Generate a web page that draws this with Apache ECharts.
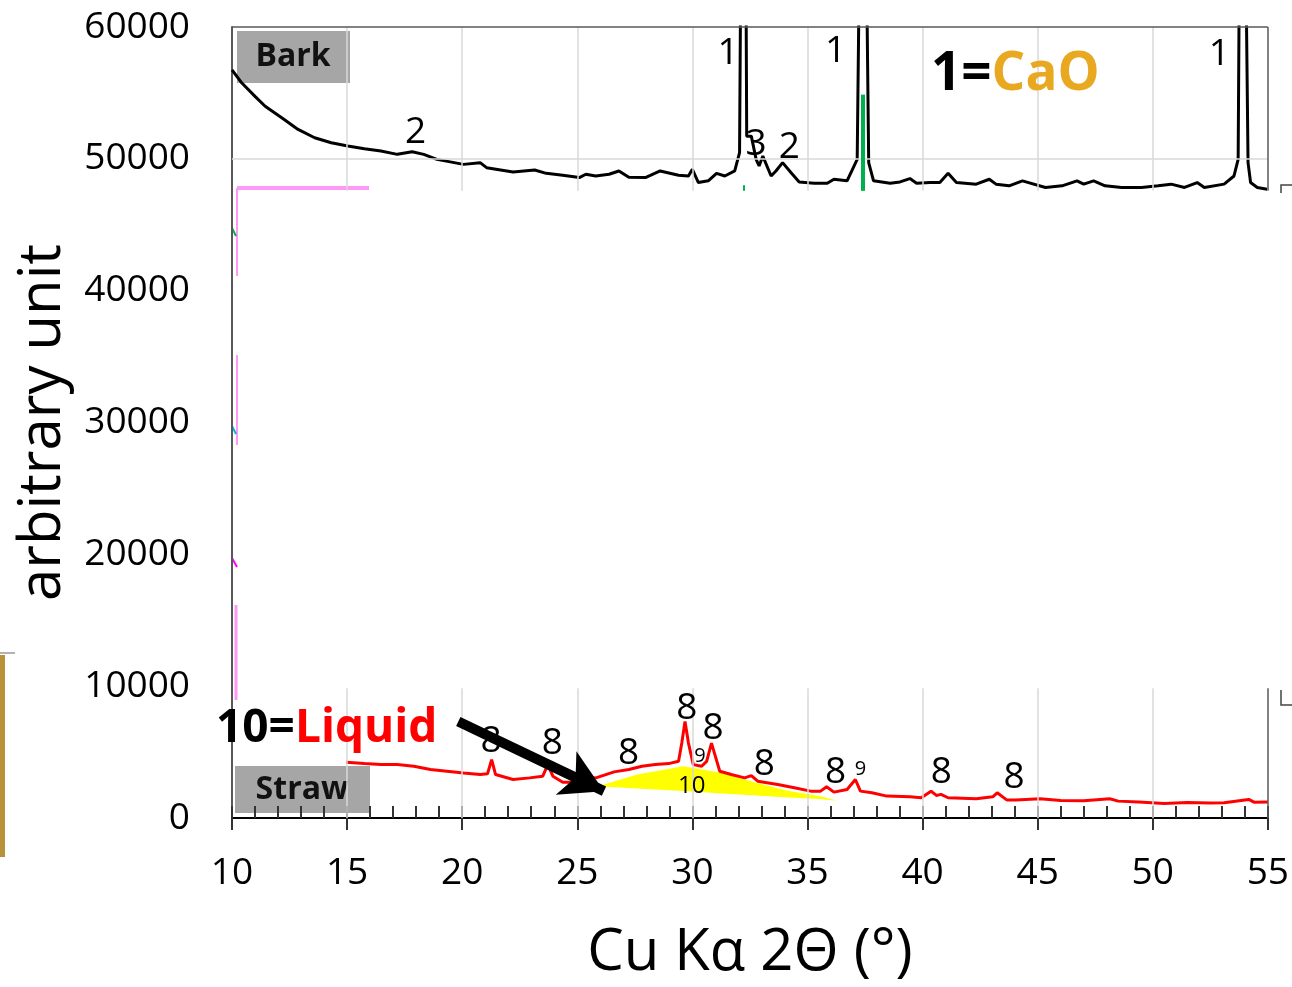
<!DOCTYPE html>
<html>
<head>
<meta charset="utf-8">
<script src="https://cdn.jsdelivr.net/npm/echarts@6/dist/echarts.min.js"></script>
<style>
  html, body { margin: 0; padding: 0; background: #fff; }
  #chart { width: 1292px; height: 987px; }
</style>
</head>
<body>
<div id="chart"></div>
<script>
// Bark pattern (black)
const barkX = [10.0, 10.43, 11.0, 11.44, 12.16, 12.87, 13.59, 14.31, 15.03, 15.75, 16.47, 17.18, 17.83, 18.33, 18.9,
  20.06, 20.78, 21.06, 22.21, 23.15, 23.65, 24.37, 25.09, 25.37, 25.8, 26.38, 26.81, 27.24, 27.96, 28.6, 29.4, 29.83,
  30.0, 30.26, 30.69, 31.05, 31.41, 31.84, 32.05, 32.14, 32.3, 32.36, 32.56, 32.77, 32.9, 33.06, 33.42, 33.63, 33.92,
  34.28, 34.64, 35.29, 35.86, 36.15, 36.72, 37.16, 37.32, 37.5, 37.66, 37.87, 38.59, 39.02, 39.45, 39.74, 40.32, 40.75,
  41.11, 41.47, 42.33, 42.9, 43.19, 43.76, 44.34, 45.34, 46.06, 46.71, 47.0, 47.43, 47.93, 48.65, 49.51, 50.23, 50.8,
  51.38, 51.93, 52.24, 53.1, 53.53, 53.71, 53.8, 53.98, 54.14, 54.25, 54.54, 54.97]
const barkY = [56750, 55750, 54740, 53990, 53110, 52230, 51600, 51220, 50970, 50770, 50590, 50340, 50540, 50340, 49960,
  49580, 49710, 49330, 49000, 49150, 48900, 48750, 48580, 48830, 48700, 48830, 49080, 48600, 48580, 49080, 48750, 48700,
  49210, 48200, 48330, 48900, 48700, 49080, 50470, 75000, 75000, 51720, 51720, 49960, 49460, 50210, 48700, 49080, 49710,
  48960, 48250, 48150, 48150, 48450, 48330, 49960, 75000, 75000, 49710, 48330, 48150, 48250, 48500, 48150, 48200, 48200,
  48900, 48200, 48080, 48450, 48080, 47950, 48330, 47830, 47950, 48330, 48080, 48330, 47950, 47830, 47830, 47950, 48080,
  47830, 48200, 47830, 48080, 48700, 49960, 75000, 75000, 49710, 48200, 47830, 47700]

// Straw pattern (red)
const strawX = [14.96, 15.75, 16.47, 17.18, 17.9, 18.62, 19.34, 20.06, 20.78, 21.1, 21.28, 21.45, 22.21, 22.93, 23.5,
  23.72, 23.94, 24.37, 24.94, 25.37, 25.81, 26.6, 27.24, 27.81, 28.39, 28.97, 29.4, 29.54, 29.68, 29.83, 30.04, 30.4,
  30.62, 30.83, 31.0, 31.19, 31.69, 32.27, 32.56, 32.84, 33.71, 34.43, 35.14, 35.57, 35.83, 36.15, 36.72, 37.08, 37.3,
  37.8, 38.45, 39.45, 39.94, 40.37, 40.6, 40.8, 41.11, 42.33, 43.05, 43.24, 43.67, 44.05, 44.48, 45.1, 46.0, 47.0,
  48.13, 48.5, 49.4, 50.5, 51.5, 52.5, 53.1, 54.17, 54.4, 55.0]
const strawY = [4226, 4125, 4050, 4050, 3925, 3673, 3547, 3420, 3295, 3350, 4428, 3295, 2920, 3044, 3170,
  4050, 3170, 2717, 2717, 3120, 3044, 3500, 3673, 3925, 4050, 4125, 4300, 5683, 7320, 5683, 4050, 3925,
  4300, 5683, 4679, 3547, 3295, 3044, 3220, 2792, 2540, 2290, 2038, 2038, 2365, 1962, 2163, 2920, 2038,
  1912, 1660, 1610, 1535, 2038, 1711, 1790, 1535, 1460, 1610, 1912, 1358, 1358, 1410, 1460, 1330, 1300,
  1460, 1280, 1208, 1107, 1180, 1130, 1158, 1410, 1200, 1208]

// "Liquid" hump (yellow)
const liqX = [25.9, 27.6, 29.6, 31.3, 32.76, 34.2, 35.5, 36.3]
const liqTop = [2415, 3300, 3920, 3420, 2670, 2040, 1660, 1300]
const liqBottom = [2415, 2240, 2040, 1856, 1705, 1555, 1434, 1300]

// reference sticks (green)
const refX = [32.22, 37.42]
const refTop = [48000, 54870]

// peak labels
const barkLabX = [17.97, 31.55, 32.77, 34.21, 36.22, 52.89]
const barkLabY = [51980, 58010, 51090, 50840, 58130, 57890]
const barkLabText = ['2', '1', '3', '2', '1', '1']
const strawLabX = [21.26, 23.92, 27.23, 29.76, 30.9, 33.13, 36.22, 40.82, 43.98]
const strawLabY = [5810, 5683, 4930, 8324, 6815, 4050, 3420, 3420, 3044]
const strawSmallX = [30.33, 37.3]
const strawSmallY = [4680, 3673]

// arrow from the "10=Liquid" note
const arrowFrom = [19.83, 7320]
const arrowTo = [26.16, 2038]

const gridX = [15, 20, 25, 30, 35, 40, 45, 50]
const topBandMin = 47570
const bottomBandMax = 9850

const FONT = 'Open Sans'

function zip (xs, ys) {
  return xs.map((x, i) => [x, ys[i]])
}

function seg (a, b) {
  return [{ coord: a }, { coord: b }]
}

function textPoints (xs, ys, texts, size) {
  return xs.map((x, i) => ({
    value: [x, ys[i]],
    label: { formatter: texts ? texts[i] : '8', fontSize: size }
  }))
}

// gridlines, only where the reference shows them
const gridLines = []
gridX.forEach(x => {
  gridLines.push(seg([x, topBandMin], [x, 60000]))
  gridLines.push(seg([x, 0], [x, bottomBandMax]))
})
gridLines.push(seg([10, 50000], [55, 50000]))

const frameLines = [
  seg([10, 60000], [55, 60000]),
  seg([55, topBandMin], [55, 60000]),
  seg([55, 0], [55, bottomBandMax])
]

const chart = echarts.init(document.getElementById('chart'))

const labelSeries = (name, data) => ({
  name: name,
  type: 'scatter',
  symbolSize: 0,
  z: 6,
  silent: true,
  data: data,
  itemStyle: { color: '#000', opacity: 1 },
  label: {
    show: true,
    position: 'inside',
    color: '#000',
    opacity: 1,
    textBorderWidth: 0,
    fontFamily: FONT
  }
})

const option = {
  animation: false,
  backgroundColor: '#fff',
  grid: { left: 232, right: 16, top: 27, bottom: 165 },
  xAxis: [
    {
      type: 'value',
      min: 10,
      max: 55,
      interval: 5,
      name: 'Cu Kα 2Θ (°)',
      nameLocation: 'middle',
      nameGap: 106,
      nameTextStyle: { fontSize: 58, fontFamily: FONT, color: '#000' },
      axisLine: { show: true, onZero: false, lineStyle: { color: '#000', width: 2 } },
      axisTick: { show: true, inside: false, length: 12, lineStyle: { color: '#333', width: 2 } },
      axisLabel: { fontSize: 37, fontFamily: FONT, color: '#000', margin: 37 },
      splitLine: { show: false }
    },
    {
      type: 'value',
      min: 10,
      max: 55,
      interval: 1,
      position: 'bottom',
      axisLine: { show: false },
      axisTick: { show: true, inside: true, length: 12, lineStyle: { color: '#333', width: 2 } },
      axisLabel: { show: false },
      splitLine: { show: false }
    }
  ],
  yAxis: {
    type: 'value',
    min: 0,
    max: 60000,
    interval: 10000,
    name: 'arbitrary unit',
    nameLocation: 'middle',
    nameGap: 160,
    nameRotate: 90,
    nameTextStyle: { fontSize: 58, fontFamily: FONT, color: '#000' },
    axisLine: { show: true, lineStyle: { color: '#595959', width: 2 } },
    axisTick: { show: false },
    axisLabel: { fontSize: 37, fontFamily: FONT, color: '#000', margin: 42, formatter: v => String(v) },
    splitLine: { show: false }
  },
  graphic: [
    // left-over bits of the neighbouring panels
    { type: 'rect', shape: { x: 0, y: 655, width: 5, height: 202 }, style: { fill: '#B8923A' } },
    { type: 'line', shape: { x1: 0, y1: 653, x2: 15, y2: 653 }, style: { stroke: '#999', lineWidth: 1.5 } },
    { type: 'rect', shape: { x: 237, y: 186, width: 132, height: 4 }, style: { fill: '#FF99F5' } },
    { type: 'line', shape: { x1: 237, y1: 188, x2: 237, y2: 276 }, style: { stroke: '#FF99F5', lineWidth: 2 } },
    { type: 'line', shape: { x1: 237, y1: 355, x2: 237, y2: 445 }, style: { stroke: '#FF99F5', lineWidth: 2 } },
    { type: 'line', shape: { x1: 236, y1: 605, x2: 236, y2: 700 }, style: { stroke: '#FF99F5', lineWidth: 3 } },
    { type: 'line', shape: { x1: 232, y1: 228, x2: 236, y2: 236 }, style: { stroke: '#00B050', lineWidth: 2 } },
    { type: 'line', shape: { x1: 232, y1: 426, x2: 236, y2: 434 }, style: { stroke: '#00B0F0', lineWidth: 2 } },
    { type: 'line', shape: { x1: 232, y1: 558, x2: 237, y2: 567 }, style: { stroke: '#FF00FF', lineWidth: 2 } },
    { type: 'polyline', shape: { points: [[1281, 193], [1281, 185], [1292, 185]] }, style: { stroke: '#444', lineWidth: 1.5, fill: null } },
    { type: 'polyline', shape: { points: [[1281, 690], [1281, 705], [1292, 705]] }, style: { stroke: '#444', lineWidth: 1.5, fill: null } },
    // sample tags
    {
      type: 'group', left: 237, top: 31, z: 10,
      children: [
        { type: 'rect', shape: { x: 0, y: 0, width: 113, height: 52 }, style: { fill: '#A6A6A6' } },
        { type: 'text', x: 56, y: 26, style: { text: 'Bark', font: 'bold 32px "Open Sans"', fill: '#111', align: 'center', verticalAlign: 'middle' } }
      ]
    },
    {
      type: 'group', left: 235, top: 766, z: 10,
      children: [
        { type: 'rect', shape: { x: 0, y: 0, width: 135, height: 47 }, style: { fill: '#A6A6A6' } },
        { type: 'text', x: 67, y: 24, style: { text: 'Straw', font: 'bold 32px "Open Sans"', fill: '#111', align: 'center', verticalAlign: 'middle' } }
      ]
    },
    {
      type: 'text', left: 931, top: 48, z: 10,
      style: {
        text: '{a|1=}{b|CaO}',
        rich: {
          a: { fontSize: 53, fontWeight: 'bold', fontFamily: FONT, fill: '#000' },
          b: { fontSize: 53, fontWeight: 'bold', fontFamily: FONT, fill: '#E8A920' }
        }
      }
    },
    {
      type: 'text', left: 216, top: 706, z: 10,
      style: {
        text: '{a|10=}{b|Liquid}',
        rich: {
          a: { fontSize: 46, fontWeight: 'bold', fontFamily: FONT, fill: '#000' },
          b: { fontSize: 46, fontWeight: 'bold', fontFamily: FONT, fill: '#FF0000' }
        }
      }
    }
  ],
  series: [
    {
      name: 'grid',
      type: 'line',
      data: [[10, 0]],
      symbol: 'none',
      lineStyle: { width: 0 },
      z: 1,
      silent: true,
      markLine: {
        silent: true,
        symbol: ['none', 'none'],
        label: { show: false },
        lineStyle: { color: '#D9D9D9', width: 1.5, type: 'solid' },
        data: gridLines
      }
    },
    {
      name: 'frame',
      type: 'line',
      data: [[10, 0]],
      symbol: 'none',
      lineStyle: { width: 0 },
      z: 3,
      silent: true,
      markLine: {
        silent: true,
        symbol: ['none', 'none'],
        label: { show: false },
        lineStyle: { color: '#595959', width: 1.5, type: 'solid' },
        data: frameLines
      }
    },
    {
      name: 'ref',
      type: 'line',
      data: [[10, 0]],
      symbol: 'none',
      lineStyle: { width: 0 },
      z: 2,
      silent: true,
      markLine: {
        silent: true,
        symbol: ['none', 'none'],
        label: { show: false },
        data: refX.map((x, i) => {
          const s = seg([x, topBandMin], [x, refTop[i]])
          s[0].lineStyle = { color: '#00B050', width: i === 0 ? 2 : 4, type: 'solid' }
          return s
        })
      }
    },
    {
      name: 'Bark',
      type: 'line',
      data: zip(barkX, barkY),
      symbol: 'none',
      z: 4,
      lineStyle: { color: '#000', width: 3 }
    },
    {
      name: 'Liquid',
      type: 'custom',
      z: 2,
      silent: true,
      data: [[liqX[0], liqTop[0]]],
      encode: { x: 0, y: 1 },
      renderItem: function (params, api) {
        const top = liqX.map((x, i) => api.coord([x, liqTop[i]]))
        const bottom = liqX.map((x, i) => api.coord([x, liqBottom[i]])).reverse()
        return {
          type: 'polygon',
          shape: { points: top.concat(bottom) },
          style: { fill: '#FFFF00' }
        }
      }
    },
    {
      name: 'Straw',
      type: 'line',
      data: zip(strawX, strawY),
      symbol: 'none',
      z: 4,
      lineStyle: { color: '#FF0000', width: 3 }
    },
    labelSeries('barkLabels', textPoints(barkLabX, barkLabY, barkLabText, 37)),
    labelSeries('strawLabels', textPoints(strawLabX, strawLabY, null, 37)),
    labelSeries('strawSmall', textPoints(strawSmallX, strawSmallY, ['9', '9'], 20)),
    labelSeries('liquidLabel', textPoints([29.97], [2415], ['10'], 24)),
    {
      name: 'arrow',
      type: 'line',
      data: [[10, 0]],
      symbol: 'none',
      lineStyle: { width: 0 },
      z: 8,
      silent: true,
      markLine: {
        silent: true,
        z: 8,
        symbol: ['none', 'arrow'],
        symbolSize: [36, 42],
        label: { show: false },
        lineStyle: { color: '#000', width: 10, type: 'solid' },
        itemStyle: { color: '#000' },
        data: [seg(arrowFrom, arrowTo)]
      }
    }
  ]
}

chart.setOption(option)
</script>
</body>
</html>
